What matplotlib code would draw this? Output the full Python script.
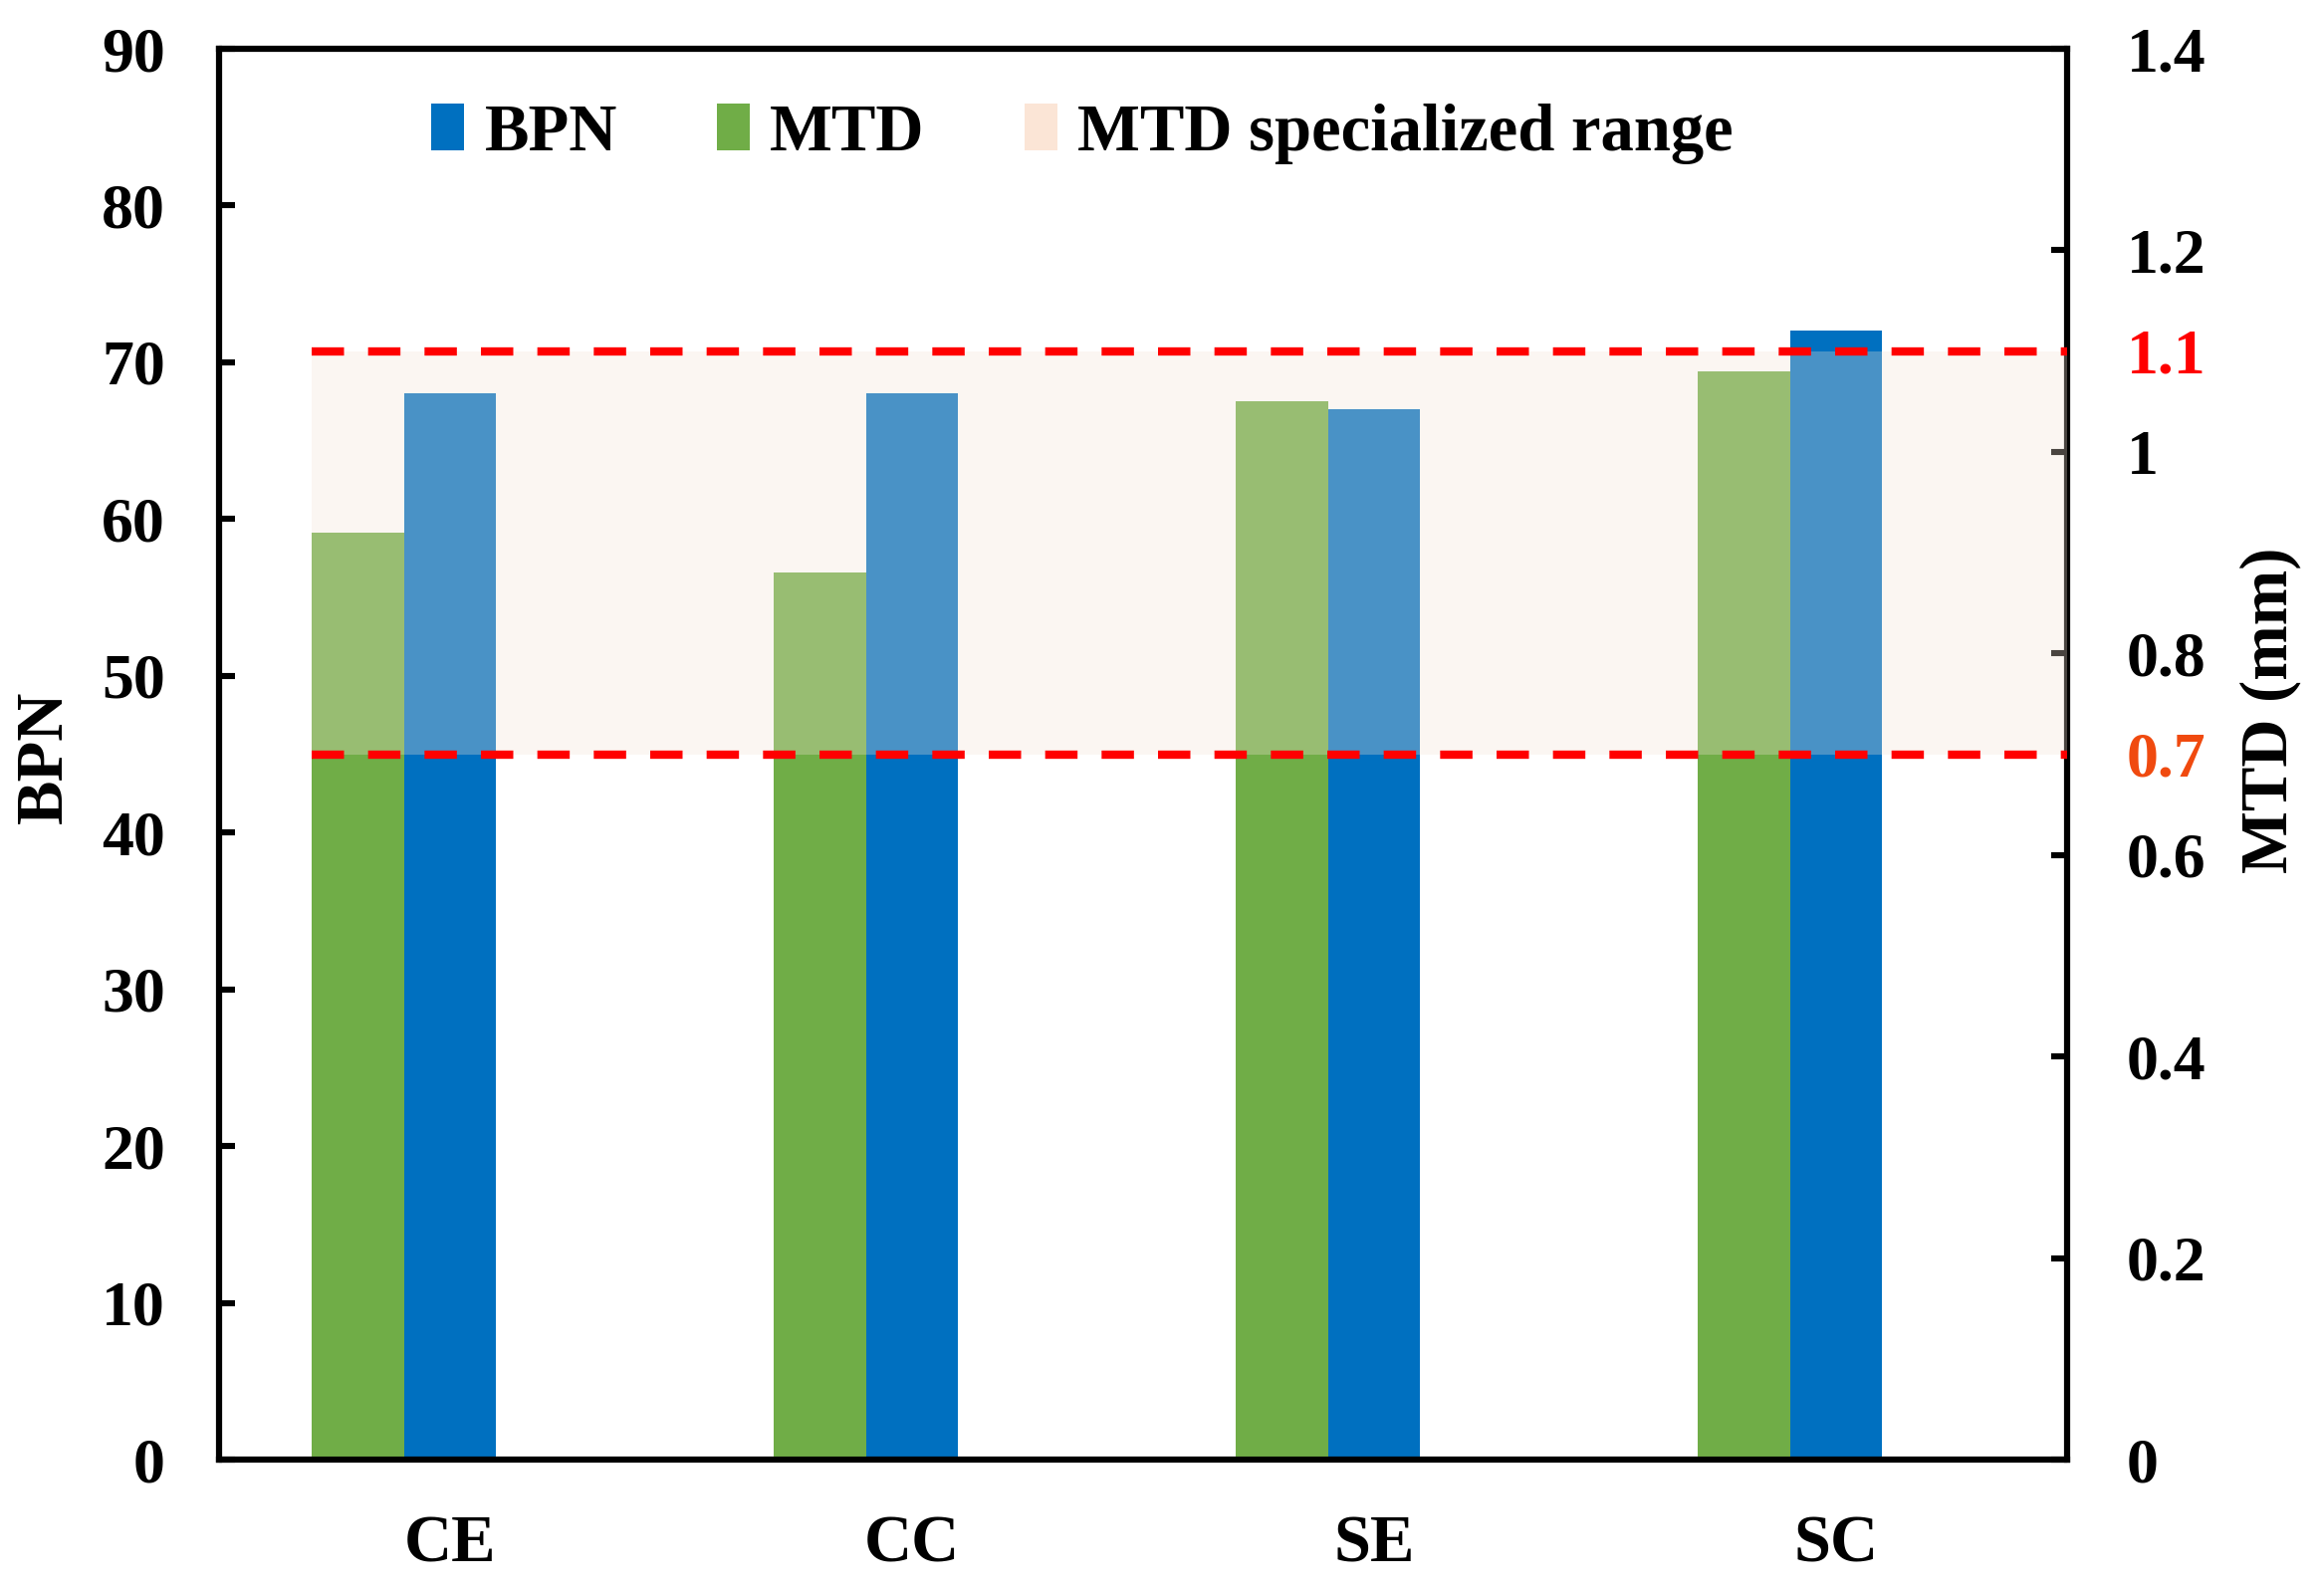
import matplotlib
matplotlib.use("Agg")
import matplotlib.pyplot as plt
from matplotlib.patches import Patch

categories = ["CE", "CC", "SE", "SC"]
bpn = [68, 68, 67, 72]
mtd = [0.92, 0.88, 1.05, 1.08]
range_low = 0.7
range_high = 1.1
left_ticks = [0, 10, 20, 30, 40, 50, 60, 70, 80, 90]
right_ticks = [0, 0.2, 0.4, 0.6, 0.7, 0.8, 1.0, 1.1, 1.2, 1.4]
right_labels = ["0", "0.2", "0.4", "0.6", "0.7", "0.8", "1", "1.1", "1.2", "1.4"]

plt.rcParams['font.family'] = ['Liberation Serif', 'DejaVu Serif']
plt.rcParams['font.weight'] = 'bold'
FS = 23

fig = plt.figure(figsize=(11.67, 7.99), dpi=200)
ax1 = fig.add_axes([0.0943, 0.0826, 0.8895 - 0.0943, 0.9693 - 0.0826])
ax2 = ax1.twinx()

x = list(range(len(categories)))
w = 0.2
green = '#70AD47'
blue = '#0070C0'

ax1.bar([xi for xi in x], bpn, width=w, color=blue, zorder=2)
ax2.bar([xi - w for xi in x], mtd, width=w, color=green, zorder=2)

x0, x1 = -0.3, 3.5
ax2.fill_between([x0, x1], range_low, range_high, color='#F5E4D6', alpha=0.3, lw=0, zorder=3)
for v in (range_low, range_high):
    ax2.plot([x0, x1], [v, v], color='#FF0000', lw=3, dashes=(3.9, 2.9), zorder=4,
             solid_capstyle='butt', dash_capstyle='butt')

ax1.set_xlim(-0.5, 3.5)
ax1.set_ylim(0, 90)
ax2.set_ylim(0, 1.4)

ax1.set_xticks(x)
ax1.set_xticklabels(categories, fontsize=FS + 1, fontweight='bold')
ax1.tick_params(axis='x', length=0, pad=20)

ax1.set_yticks(left_ticks)
ax1.set_yticklabels([str(t) for t in left_ticks], fontsize=FS, fontweight='bold')
ax1.tick_params(axis='y', direction='in', length=5.8, width=2.2, pad=19.5)

ax2.set_yticks(right_ticks)
ax2.set_yticklabels(right_labels, fontsize=FS, fontweight='bold')
ax2.tick_params(axis='y', direction='in', length=5.8, width=2.2, pad=21.5)
for t, lab in zip(ax2.yaxis.get_major_ticks(), right_labels):
    if lab == "1.1":
        t.tick2line.set_visible(False)
        t.label2.set_color('#FF0000')
    elif lab == "0.7":
        t.tick2line.set_visible(False)
        t.label2.set_color('#F04A0F')

for ax in (ax1, ax2):
    for s in ax.spines.values():
        s.set_linewidth(2.2)
        s.set_color('black')

fig.text(45 / 2334, 1 - 760 / 1598, "BPN", rotation=90, ha='center', va='center',
         fontsize=FS + 1, fontweight='bold')
fig.text(2280 / 2334, 1 - 713 / 1598, "MTD (mm)", rotation=90, ha='center', va='center',
         fontsize=FS + 1, fontweight='bold')

handles = [Patch(facecolor=blue, edgecolor='none'),
           Patch(facecolor=green, edgecolor='none'),
           Patch(facecolor='#FBE5D6', edgecolor='none')]
labels = ["BPN", "MTD", "MTD specialized range"]
leg = ax2.legend(handles, labels, ncol=3, loc='center', bbox_to_anchor=(0.467, 0.940),
                 frameon=False, fontsize=FS + 1, handlelength=0.5, handleheight=0.7,
                 handletextpad=0.3, columnspacing=1.5, borderaxespad=0)
for t in leg.get_texts():
    t.set_fontweight('bold')

fig.savefig("out.png", dpi=200)
